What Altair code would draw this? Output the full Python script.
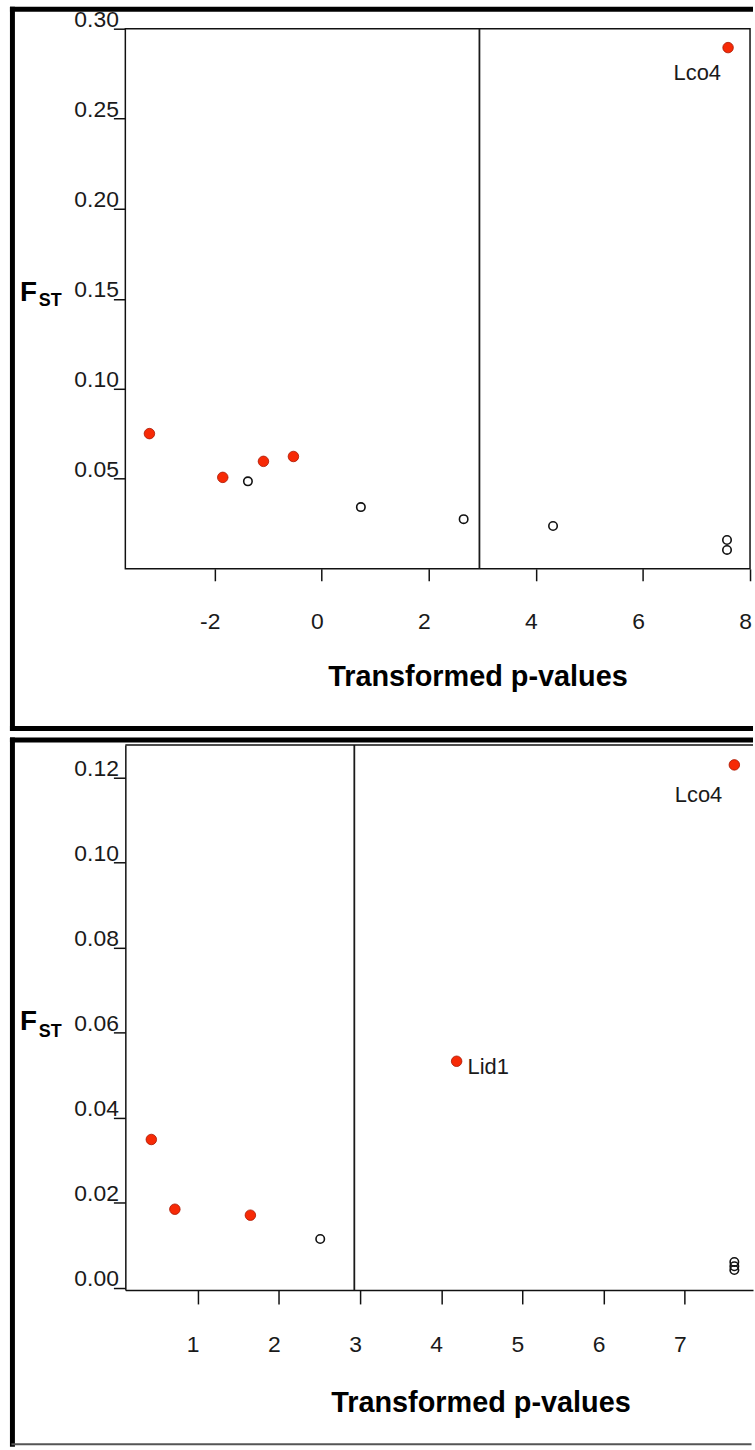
import altair as alt
import pandas as pd

# ---------------- data ----------------
# Top panel
top_red_x = [-3.22, -1.85, -1.09, -0.53, 7.59]
top_red_y = [0.0751, 0.0508, 0.0597, 0.0624, 0.2895]
top_red_lab = ["", "", "", "", "Lco4"]
top_open_x = [-1.38, 0.73, 2.65, 4.32, 7.57, 7.57]
top_open_y = [0.0486, 0.0343, 0.0276, 0.0238, 0.0160, 0.0105]
top_threshold = [2.945]
top_xticks = [-2, 0, 2, 4, 6, 8]
top_yticks = [0.05, 0.10, 0.15, 0.20, 0.25, 0.30]

# Bottom panel
bot_red_x = [0.43, 0.72, 1.65, 4.19, 7.61]
bot_red_y = [0.0349, 0.0185, 0.0171, 0.0533, 0.1230]
bot_red_lab = ["", "", "", "Lid1", "Lco4"]
bot_open_x = [2.51, 7.61, 7.61, 7.61]
bot_open_y = [0.0115, 0.0061, 0.0051, 0.0042]
bot_threshold = [2.93]
bot_xticks = [1, 2, 3, 4, 5, 6, 7]
bot_yticks = [0.00, 0.02, 0.04, 0.06, 0.08, 0.10, 0.12]

X_TITLE = "Transformed p-values"

FONT = "Liberation Sans"
RED = "#f72a06"
INK = "#111111"
one = pd.DataFrame({"a": [0]})


def xenc(dom, ticks, tick_size, title_x, title_y, domain_line):
    return alt.X(
        "x:Q",
        scale=alt.Scale(domain=dom, nice=False, zero=False),
        axis=alt.Axis(
            values=ticks, title=X_TITLE, grid=False,
            labelExpr="toString(datum.value)",
            tickSize=tick_size, tickWidth=1.5, tickColor=INK,
            domain=domain_line, domainColor=INK, domainWidth=1.5,
            labelFont=FONT, labelFontSize=23, labelColor="#1a1a1a",
            labelOffset=-5, labelPadding=30, labelFlush=False, labelOverlap=False,
            titleFont=FONT, titleFontSize=29, titleFontWeight="bold", titleColor="#000000",
            titleX=title_x, titleY=title_y, titleAlign="center", titleBaseline="alphabetic",
        ),
    )


def yenc(dom, ticks, domain_line):
    return alt.Y(
        "y:Q",
        scale=alt.Scale(domain=dom, nice=False, zero=False),
        axis=alt.Axis(
            values=ticks, format=".2f", title=None, grid=False,
            tickSize=12, tickWidth=1.5, tickColor=INK,
            domain=domain_line, domainColor=INK, domainWidth=1.5,
            labelFont=FONT, labelFontSize=23, labelColor="#1a1a1a",
            labelAlign="right", labelBaseline="middle", labelOffset=-9, labelPadding=-5,
            labelFlush=False, labelOverlap=False,
        ),
    )


def frame_rule(x, x2, y, y2, width=5, color="#000000"):
    enc = {"x": alt.value(x), "y": alt.value(y)}
    if x2 is not None:
        enc["x2"] = alt.value(x2)
    if y2 is not None:
        enc["y2"] = alt.value(y2)
    return alt.Chart(one).mark_rule(color=color, strokeWidth=width, strokeCap="square").encode(**enc)


def fst(fy, sty):
    f = alt.Chart(one).mark_text(text="F", font=FONT, fontSize=28, fontWeight="bold",
                                 align="left", baseline="alphabetic", color="#000000").encode(
        x=alt.value(-106), y=alt.value(fy))
    st = alt.Chart(one).mark_text(text="ST", font=FONT, fontSize=18, fontWeight="bold",
                                  align="left", baseline="alphabetic", color="#000000").encode(
        x=alt.value(-87), y=alt.value(sty))
    return [f, st]


def panel(red_x, red_y, red_lab, open_x, open_y, thr, X, Y, label_offsets):
    df_red = pd.DataFrame({"x": red_x, "y": red_y, "label": red_lab})
    df_open = pd.DataFrame({"x": open_x, "y": open_y})
    df_thr = pd.DataFrame({"x": thr})

    rule = alt.Chart(df_thr).mark_rule(color="#1a1a1a", strokeWidth=1.8).encode(x=X)
    opn = alt.Chart(df_open).mark_point(shape="circle", filled=False, size=72, strokeWidth=1.6,
                                        color=INK, opacity=1).encode(x=X, y=Y)
    red = alt.Chart(df_red).mark_point(shape="circle", filled=True, size=112, fill=RED,
                                       stroke="#a81600", strokeWidth=0.8, opacity=1).encode(x=X, y=Y)
    texts = []
    for lab, (align, dx, dy) in label_offsets.items():
        texts.append(
            alt.Chart(df_red).transform_filter(alt.datum.label == lab)
            .mark_text(font=FONT, fontSize=22, color="#1a1a1a", align=align, baseline="middle",
                       dx=dx, dy=dy)
            .encode(x=X, y=Y, text="label:N")
        )
    return [rule, opn, red] + texts


# ---------------- top panel ----------------
TW, TH = 628, 543
Xt = xenc([-3.67, 8.0], top_xticks, 12, 354, 117, False)
Yt = yenc([0.0, 0.30], top_yticks, False)
top_layers = panel(top_red_x, top_red_y, top_red_lab, top_open_x, top_open_y, top_threshold,
                   Xt, Yt, {"Lco4": ("center", -31, 26)})
top_frame = [
    frame_rule(-113.5, None, -19.5, 703.5),
    frame_rule(-113.5, 628.5, -19.5, None),
    frame_rule(-113.5, 628.5, 703.5, None),
]
top = alt.layer(*(top_layers + fst(274, 279) + top_frame)).properties(
    width=TW, height=TH,
    view=alt.ViewBackground(stroke=INK, strokeWidth=1.5, fill="white"),
)

# ---------------- bottom panel ----------------
BW, BH = 631, 548
Xb = xenc([0.11, 7.84], bot_xticks, 14, 357, 122, True)
Yb = yenc([-0.0005, 0.1277], bot_yticks, True)
bot_layers = panel(bot_red_x, bot_red_y, bot_red_lab, bot_open_x, bot_open_y, bot_threshold,
                   Xb, Yb, {"Lco4": ("center", -36, 30), "Lid1": ("left", 11, 6)})
bot_box_top = alt.Chart(one).mark_rule(color=INK, strokeWidth=1.5).encode(
    x=alt.value(0), x2=alt.value(BW), y=alt.value(0))
bot_frame = [
    frame_rule(-113.5, None, -5, 703),
    frame_rule(-113.5, 628.5, -5, None),
    frame_rule(-113.5, 628.5, 703, None, width=2, color="#555555"),
]
bottom = alt.layer(*(bot_layers + [bot_box_top] + fst(287, 294) + bot_frame)).properties(
    width=BW, height=BH,
    view=alt.ViewBackground(stroke="transparent", fill="white"),
)

chart = alt.vconcat(top, bottom, spacing=2).properties(
    padding={"left": 8, "top": 1, "right": 0, "bottom": 0},
    background="white",
)

chart.save("out.html", embed_options={"renderer": "svg", "actions": False})
